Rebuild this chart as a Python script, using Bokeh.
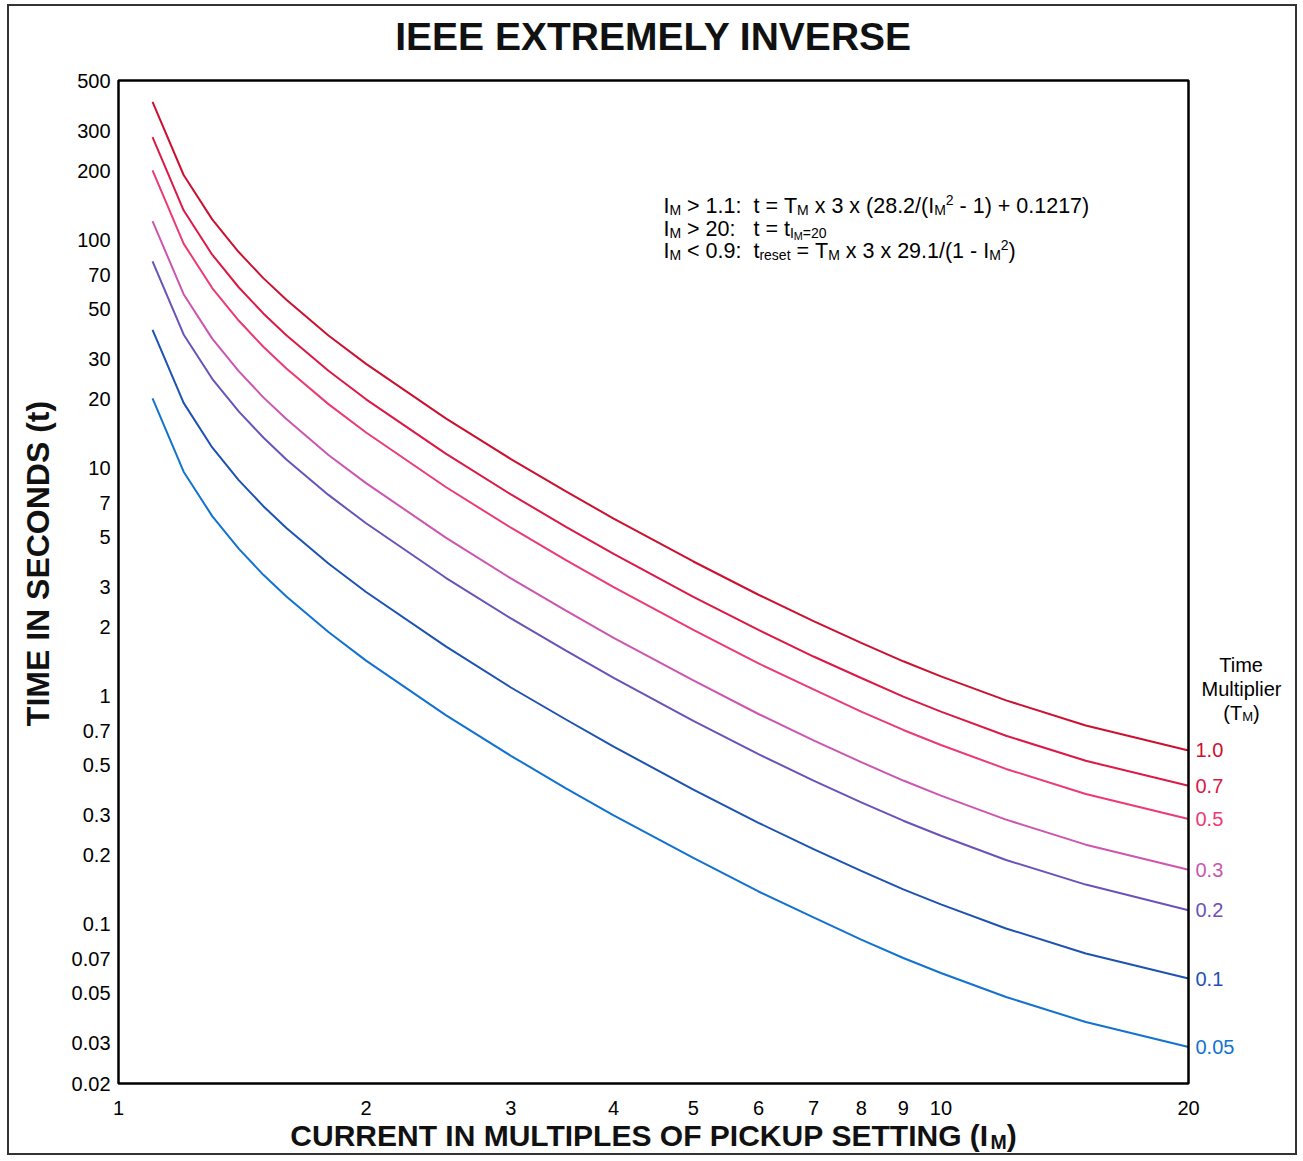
import math
from bokeh.plotting import figure
from bokeh.models import Range1d, Label, BoxAnnotation, ColumnDataSource
from bokeh.core.properties import value
from bokeh.embed import file_html
from bokeh.resources import INLINE

# ---------------- data ----------------
current = [1.1, 1.2, 1.3, 1.4, 1.5, 1.6, 1.8, 2, 2.5, 3, 3.5, 4, 5, 6, 7, 8, 9, 10, 12, 15, 20]

t_tm_100 = [403.2, 192.6, 123.0, 88.5, 68.0, 54.6, 38.1, 28.6, 16.5, 10.94, 7.89, 6.0, 3.89, 2.78, 2.13, 1.71, 1.42, 1.22, 0.957, 0.743, 0.577]
t_tm_070 = [282.2, 134.8, 86.1, 62.0, 47.6, 38.2, 26.7, 20.0, 11.55, 7.66, 5.52, 4.2, 2.72, 1.95, 1.49, 1.20, 0.994, 0.854, 0.670, 0.520, 0.404]
t_tm_050 = [201.6, 96.3, 61.5, 44.3, 34.0, 27.3, 19.05, 14.3, 8.25, 5.47, 3.94, 3.0, 1.95, 1.39, 1.07, 0.855, 0.71, 0.61, 0.479, 0.372, 0.289]
t_tm_030 = [121.0, 57.8, 36.9, 26.6, 20.4, 16.4, 11.4, 8.58, 4.95, 3.28, 2.37, 1.8, 1.17, 0.834, 0.639, 0.513, 0.426, 0.366, 0.287, 0.223, 0.173]
t_tm_020 = [80.6, 38.5, 24.6, 17.7, 13.6, 10.9, 7.62, 5.72, 3.3, 2.19, 1.58, 1.2, 0.778, 0.556, 0.426, 0.342, 0.284, 0.244, 0.191, 0.149, 0.115]
t_tm_010 = [40.3, 19.3, 12.3, 8.85, 6.8, 5.46, 3.81, 2.86, 1.65, 1.09, 0.789, 0.6, 0.389, 0.278, 0.213, 0.171, 0.142, 0.122, 0.0957, 0.0743, 0.0577]
t_tm_005 = [20.2, 9.63, 6.15, 4.43, 3.4, 2.73, 1.91, 1.43, 0.825, 0.547, 0.394, 0.3, 0.195, 0.139, 0.107, 0.0855, 0.071, 0.061, 0.0479, 0.0372, 0.0289]

tm_labels = ["1.0", "0.7", "0.5", "0.3", "0.2", "0.1", "0.05"]
series = [t_tm_100, t_tm_070, t_tm_050, t_tm_030, t_tm_020, t_tm_010, t_tm_005]
colors = ["#cc1030", "#dd1845", "#ec3a72", "#cc55b0", "#6a52b8", "#1c52b2", "#1272d0"]

x_ticks = [1, 2, 3, 4, 5, 6, 7, 8, 9, 10, 20]
x_tick_labels = ["1", "2", "3", "4", "5", "6", "7", "8", "9", "10", "20"]
y_ticks = [0.02, 0.03, 0.05, 0.07, 0.1, 0.2, 0.3, 0.5, 0.7, 1, 2, 3, 5, 7, 10, 20, 30, 50,
           70, 100, 200, 300, 500]
y_tick_labels = ["0.02", "0.03", "0.05", "0.07", "0.1", "0.2", "0.3", "0.5", "0.7", "1", "2",
                 "3", "5", "7", "10", "20", "30", "50", "70", "100", "200", "300", "500"]

# ---------------- geometry ----------------
FONT = "Liberation Sans"
W, H = 1290, 1151
CX, CY = 9, 6                  # page position of the canvas (margin + border)
L, T, R, B = 118, 80, 1188, 1083   # page position of the chart box
XMIN, XMAX, YMIN, YMAX = 1, 20, 0.02, 500


def xd(px):
    return 10 ** (math.log10(XMIN) + math.log10(XMAX / XMIN) * (px - L) / (R - L))


def yd(py):
    return 10 ** (math.log10(YMIN) + math.log10(YMAX / YMIN) * (B - py) / (B - T))


REG = {' ': 278, '\u00a0': 278, '(': 333, ')': 333, '+': 584, '-': 333, '.': 278, '/': 278,
       ':': 278, '<': 584, '=': 584, '>': 584,
       'A': 667, 'B': 667, 'C': 722, 'D': 722, 'E': 667, 'F': 611, 'G': 778, 'H': 722, 'I': 278,
       'J': 500, 'K': 667, 'L': 556, 'M': 833, 'N': 722, 'O': 778, 'P': 667, 'Q': 778, 'R': 722,
       'S': 667, 'T': 611, 'U': 722, 'V': 667, 'W': 944, 'X': 667, 'Y': 667, 'Z': 611,
       'a': 556, 'b': 556, 'c': 500, 'd': 556, 'e': 556, 'f': 278, 'g': 556, 'h': 556, 'i': 222,
       'j': 222, 'k': 500, 'l': 222, 'm': 833, 'n': 556, 'o': 556, 'p': 556, 'q': 556, 'r': 333,
       's': 500, 't': 278, 'u': 556, 'v': 500, 'w': 722, 'x': 500, 'y': 500, 'z': 500}
BOLD = dict(REG)
BOLD.update({'A': 722, 'B': 722, 'J': 556, 'K': 722, 'L': 611, 't': 333})


def twidth(s, size, bold=False):
    tab = BOLD if bold else REG
    return sum(tab.get(c, 556) for c in s) * size / 1000.0


def lab(p, px, py, text, size, color="black", bold=False, align="left", angle=0.0):
    # py is the vertical centre of the text
    p.add_layout(Label(x=xd(px), y=yd(py), text=text,
                       text_font=FONT, text_font_size=f"{size:.1f}px",
                       text_font_style="bold" if bold else "normal", text_color=color,
                       text_align=align, text_baseline="middle", angle=angle))


# (size factor, centre shift in units of the main font size)
KINDS = {"n": (1.0, 0.0), "sub": (0.65, 0.2), "sup": (0.65, -0.26), "subsub": (0.5, 0.36)}


def rich(p, segs, px, py, size, color="black", bold=False, align="left"):
    segs = [(t.replace(" ", "\u00a0"), k) for t, k in segs]
    total = sum(twidth(t, size * KINDS[k][0], bold) for t, k in segs)
    cur = px - total / 2 if align == "center" else px
    for t, k in segs:
        f, dy = KINDS[k]
        s = size * f
        lab(p, cur, py + dy * size, t, s, color=color, bold=bold)
        cur += twidth(t, s, bold)


# ---------------- figure (frame fills the canvas) ----------------
p = figure(width=W, height=H, x_axis_type="log", y_axis_type="log",
           x_range=Range1d(xd(CX), xd(CX + W)), y_range=Range1d(yd(CY + H), yd(CY)),
           x_axis_location=None, y_axis_location=None,
           output_backend="svg", toolbar_location=None, title=None,
           min_border_left=0, min_border_top=0, min_border_right=0, min_border_bottom=0)
p.styles = {"border": "2px solid #333", "margin-left": "7px", "margin-top": "4px"}
p.background_fill_color = "white"
p.border_fill_color = "white"
p.outline_line_color = None
p.grid.visible = False

# chart box
p.add_layout(BoxAnnotation(left=XMIN, right=XMAX, bottom=YMIN, top=YMAX, fill_alpha=0,
                           line_color="black", line_alpha=1.0, line_width=2.5,
                           level="overlay"))

# curves
for ys, c in zip(series, colors):
    p.line(current, ys, line_color=c, line_width=2)

# tick labels
p.text(x=x_ticks, y=[yd(B + 24)] * len(x_ticks), text=x_tick_labels,
       text_font=value(FONT), text_font_size=value("20px"), text_color="black",
       text_align="center", text_baseline="middle")
p.text(x=[xd(L - 8)] * len(y_ticks), y=y_ticks, text=y_tick_labels,
       text_font=value(FONT), text_font_size=value("20px"), text_color="black",
       text_align="right", text_baseline="middle")

# end-of-curve labels (time multiplier values)
end_src = ColumnDataSource(dict(x=[current[-1]] * len(series), y=[s[-1] for s in series],
                                text=tm_labels, color=colors))
p.text(x="x", y="y", text="text", source=end_src, x_offset=7,
       text_font=value(FONT), text_font_size=value("20px"), text_color="color",
       text_align="left", text_baseline="middle")

# title
lab(p, 653, 36, "IEEE EXTREMELY INVERSE", 39, color="#111", bold=True, align="center")

# y axis label
lab(p, 37, 563, "TIME IN SECONDS (t)", 32, color="#111", bold=True, align="center",
    angle=math.pi / 2)

# x axis label
rich(p, [("CURRENT IN MULTIPLES OF PICKUP SETTING (I", "n"), ("M", "sub"), (")", "n")],
     653, 1135, 30, color="#111", bold=True, align="center")

# formula block
FS = 21.5
rich(p, [("I", "n"), ("M", "sub"), (" > 1.1:  t = T", "n"), ("M", "sub"),
         (" x 3 x (28.2/(I", "n"), ("M", "sub"), ("2", "sup"), (" - 1) + 0.1217)", "n")],
     663, 205, FS)
rich(p, [("I", "n"), ("M", "sub"), (" > 20:   t = t", "n"), ("I", "sub"), ("M", "subsub"),
         ("=20", "sub")], 663, 228, FS)
rich(p, [("I", "n"), ("M", "sub"), (" < 0.9:  t", "n"), ("reset", "sub"), (" = T", "n"),
         ("M", "sub"), (" x 3 x 29.1/(1 - I", "n"), ("M", "sub"), ("2", "sup"), (")", "n")],
     663, 250, FS)

# right legend heading
rich(p, [("Time", "n")], 1241, 664, 20, align="center")
rich(p, [("Multiplier", "n")], 1241, 688, 20, align="center")
rich(p, [("(T", "n"), ("M", "sub"), (")", "n")], 1241, 712, 20, align="center")

with open("out.html", "w") as f:
    f.write(file_html(p, INLINE))
